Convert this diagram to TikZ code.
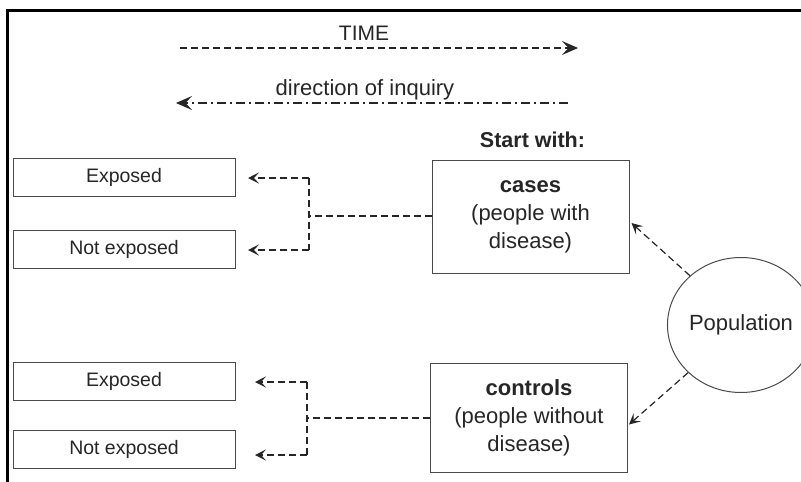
\documentclass[tikz,border=0pt]{standalone}
\usepackage{fontspec}
\setmainfont{Liberation Sans}
\usetikzlibrary{arrows.meta,calc,shapes.geometric}
\definecolor{ink}{HTML}{262626}
\definecolor{boxline}{HTML}{4A4A4A}
\begin{document}
\begin{tikzpicture}[x=1pt,y=-1pt,
  txt/.style={text=ink, inner sep=0pt},
  ebox/.style={draw=boxline, line width=1pt, minimum width=222pt, minimum height=38pt, inner sep=0pt, text=ink, font=\fontsize{19.5}{23}\selectfont},
  bigbox/.style={draw=boxline, line width=1pt, minimum width=197pt, minimum height=113pt, inner sep=0pt, text=ink, align=center, font=\fontsize{22}{28}\selectfont},
  dsh/.style={draw=ink, line width=1.4pt, dash pattern=on 7pt off 4pt},
  dshdot/.style={draw=ink, line width=1.2pt, dash pattern=on 9pt off 4pt on 2pt off 4pt},
  tip/.style={-{Stealth[length=11pt,width=11pt,inset=5pt]}},
  bigtip/.style={-{Stealth[length=16pt,width=14pt,inset=6.5pt]}}
]
\useasboundingbox (0,0) rectangle (801,482);
\fill[white] (0,0) rectangle (801,482);
% frame
\draw[line width=3pt, black] (801,10) -- (7,10) -- (7,482);

% time arrows
\node[txt, font=\fontsize{21}{25}\selectfont] (time) at (364,33) {TIME};
\coordinate (t1) at (180,48);
\coordinate (t2) at (578,48);
\draw[dsh, bigtip] (t1) -- (t2);

\node[txt, font=\fontsize{22}{26}\selectfont] (inq) at (365,90) {direction of inquiry};
\coordinate (i1) at (568,103);
\coordinate (i2) at (176,103);
\draw[dshdot, bigtip] (i1) -- (i2);

% start with
\node[txt, font=\bfseries\fontsize{21.5}{25}\selectfont] (start) at (532.5,140) {Start with:};

% main boxes
\node[bigbox] (cases) at (530.5,217) {\textbf{cases}\\(people with\\disease)};
\node[bigbox, minimum height=109pt] (controls) at (529,417.5) {\textbf{controls}\\(people without\\disease)};

% population
\node[ellipse, draw=boxline, line width=1pt, minimum width=118pt, minimum height=135pt, inner sep=0pt, text=ink, font=\fontsize{22}{26}\selectfont] (pop) at (741,325) {Population};

% left boxes
\node[ebox] (e1) at (124,177) {Exposed};
\node[ebox] (n1) at (124,249) {Not exposed};
\node[ebox] (e2) at (124,381) {Exposed};
\node[ebox] (n2) at (124,449) {Not exposed};

% top bracket
\coordinate (b1) at (309,178);
\coordinate (b2) at (309,250);
\coordinate (bm) at (309,216);
\coordinate (a1) at (248,178);
\coordinate (a2) at (248,250);
\draw[dsh] (cases.west |- bm) -- (bm);
\draw[dsh] (b1) -- (b2);
\draw[dsh, tip] (b1) -- (a1);
\draw[dsh, tip] (b2) -- (a2);

% bottom bracket
\coordinate (c1) at (307,382);
\coordinate (c2) at (307,455);
\coordinate (cm) at (307,418);
\coordinate (d1) at (255,382);
\coordinate (d2) at (255,455);
\draw[dsh] (controls.west |- cm) -- (cm);
\draw[dsh] (c1) -- (c2);
\draw[dsh, tip] (c1) -- (d1);
\draw[dsh, tip] (c2) -- (d2);

% population arrows
\draw[dsh, line width=1.2pt, tip] (pop.136) -- ($(cases.east)+(2,6)$);
\draw[dsh, line width=1.2pt, tip] (pop.222) -- ($(controls.east)+(1,7)$);
\end{tikzpicture}
\end{document}
